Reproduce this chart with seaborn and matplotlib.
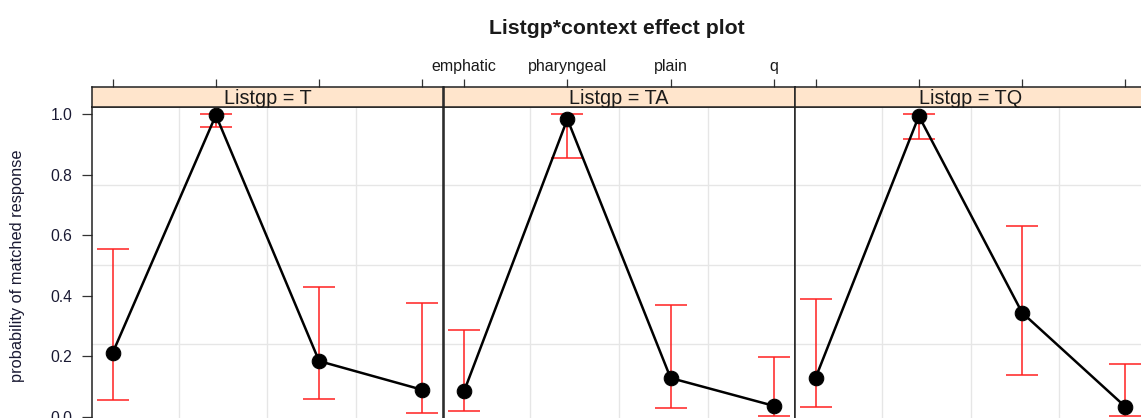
import numpy as np
import pandas as pd
import seaborn as sns
import matplotlib
matplotlib.use("Agg")
import matplotlib.pyplot as plt

# datos
contexts = ["emphatic", "pharyngeal", "plain", "q"]
groups = ["T", "TA", "TQ"]
fit_T = [0.211, 0.997, 0.184, 0.089]
lower_T = [0.054, 0.959, 0.059, 0.012]
upper_T = [0.555, 1.000, 0.430, 0.376]
fit_TA = [0.085, 0.984, 0.128, 0.036]
lower_TA = [0.018, 0.857, 0.030, 0.004]
upper_TA = [0.286, 1.000, 0.371, 0.198]
fit_TQ = [0.129, 0.994, 0.344, 0.033]
lower_TQ = [0.033, 0.917, 0.137, 0.002]
upper_TQ = [0.388, 1.000, 0.632, 0.175]
y_ticks = [0.0, 0.2, 0.4, 0.6, 0.8, 1.0]
y_grid = [0.241, 0.502, 0.766]
x_grid = [1.64, 2.5, 3.36]

fits = {"T": fit_T, "TA": fit_TA, "TQ": fit_TQ}
lowers = {"T": lower_T, "TA": lower_TA, "TQ": lower_TQ}
uppers = {"T": upper_T, "TA": upper_TA, "TQ": upper_TQ}

rows = []
for g in groups:
    for i, c in enumerate(contexts):
        rows.append({"Listgp": g, "context": c, "pos": i + 1,
                     "fit": fits[g][i], "lower": lowers[g][i], "upper": uppers[g][i]})
df = pd.DataFrame(rows)

sns.set_theme(style="white")
plt.rcParams["font.family"] = ["Liberation Sans", "DejaVu Sans"]

W, H = 1141, 418
fig = plt.figure(figsize=(W / 100, H / 100), dpi=100)

lefts = [92, 443.5, 795]
pw = 351
top_px, strip_h, bottom_px = 107, 20, 424
xlim = (0.8, 4.2)
ylim = (-0.024, 1.024)

for k, g in enumerate(groups):
    sub = df[df["Listgp"] == g]
    ax = fig.add_axes([lefts[k] / W, (H - bottom_px) / H, pw / W, (bottom_px - top_px) / H])
    ax.set_xlim(*xlim)
    ax.set_ylim(*ylim)
    for gx in x_grid:
        ax.axvline(gx, color="#e6e6e6", lw=1.0, zorder=0)
    for gy in y_grid:
        ax.axhline(gy, color="#e6e6e6", lw=1.0, zorder=0)
    yerr = [sub["fit"] - sub["lower"], sub["upper"] - sub["fit"]]
    ax.errorbar(sub["pos"], sub["fit"], yerr=yerr, fmt="none", ecolor="#ff2020",
                elinewidth=1.1, capsize=11.5, capthick=1.1, zorder=2)
    sns.lineplot(data=sub, x="pos", y="fit", ax=ax, color="black", linewidth=1.8,
                 marker="o", markersize=10.5, markeredgecolor="black", zorder=3)
    ax.set_xlabel("")
    ax.set_ylabel("")
    ax.set_xticks([])
    if k == 0:
        ax.set_yticks(y_ticks)
        ax.set_yticklabels([f"{v:.1f}" for v in y_ticks], fontsize=11.3, color="#1a1a33")
        ax.tick_params(axis="y", direction="out", length=7, width=0.9, pad=7,
                       left=True, color="#333333")
    else:
        ax.set_yticks([])
    for s in ax.spines.values():
        s.set_color("#222222")
        s.set_linewidth(1.1)

    # franja con el nombre del grupo
    sax = fig.add_axes([lefts[k] / W, (H - top_px) / H, pw / W, strip_h / H])
    sax.set_facecolor("#ffe5cc")
    sax.set_xlim(*xlim)
    sax.set_ylim(0, 1)
    sax.set_yticks([])
    sax.text(2.5, 0.42, f"Listgp = {g}", ha="center", va="center", fontsize=14.3, color="#1a1a1a")
    sax.xaxis.set_ticks_position("top")
    sax.set_xticks(range(1, len(contexts) + 1))
    if k == 1:
        sax.set_xticklabels(contexts, fontsize=11.5, color="#1a1a1a")
    else:
        sax.set_xticklabels([])
    sax.tick_params(axis="x", direction="out", length=6, width=0.9, pad=3,
                    top=True, bottom=False, color="#333333")
    for s in sax.spines.values():
        s.set_color("#222222")
        s.set_linewidth(1.1)

fig.text(617 / W, 1 - 29 / H, "Listgp*context effect plot", ha="center", va="center",
         fontsize=15.3, fontweight="bold", color="#1a1a1a")
fig.text(18 / W, 1 - 266 / H, "probability of matched response", rotation=90,
         ha="center", va="center", fontsize=11.8, color="#1a1a33")

fig.savefig("out.png", dpi=100)
